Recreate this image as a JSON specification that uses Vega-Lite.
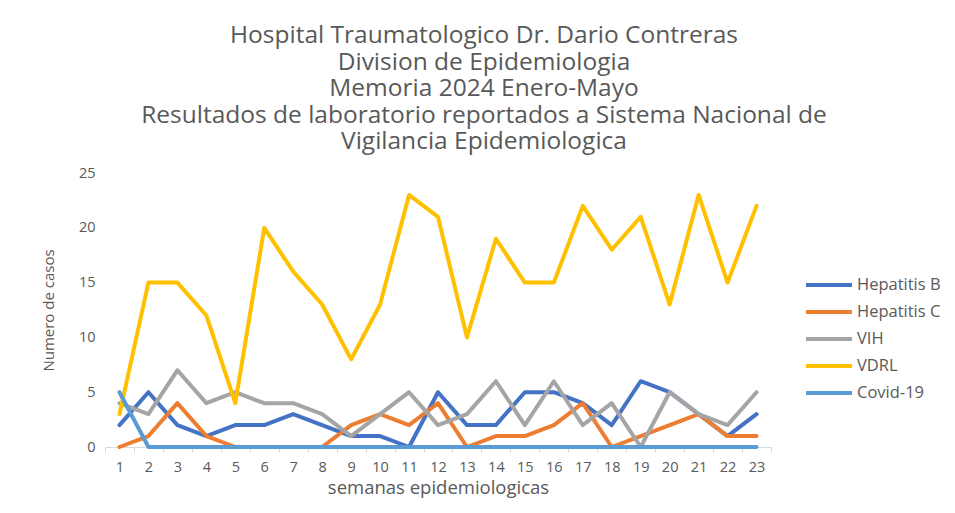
{
  "$schema": "https://vega.github.io/schema/vega-lite/v6.json",
  "autosize": {"type": "none"},
  "padding": {"left": 105, "top": 173, "right": 184, "bottom": 66},
  "width": 666,
  "height": 274,
  "background": "white",
  "title": {
    "text": ["Hospital Traumatologico Dr. Dario Contreras", "Division de Epidemiologia", "Memoria 2024 Enero-Mayo", "Resultados de laboratorio reportados a Sistema Nacional de", "Vigilancia Epidemiologica"],
    "font": "Open Sans",
    "fontSize": 24.5,
    "fontWeight": "normal",
    "color": "#595959",
    "lineHeight": 26.5,
    "anchor": "middle",
    "dx": 46,
    "offset": 10.5,
    "limit": 900
  },
  "data": {"values": [
    {"semana": 1, "serie": "Hepatitis B", "casos": 2},
    {"semana": 2, "serie": "Hepatitis B", "casos": 5},
    {"semana": 3, "serie": "Hepatitis B", "casos": 2},
    {"semana": 4, "serie": "Hepatitis B", "casos": 1},
    {"semana": 5, "serie": "Hepatitis B", "casos": 2},
    {"semana": 6, "serie": "Hepatitis B", "casos": 2},
    {"semana": 7, "serie": "Hepatitis B", "casos": 3},
    {"semana": 8, "serie": "Hepatitis B", "casos": 2},
    {"semana": 9, "serie": "Hepatitis B", "casos": 1},
    {"semana": 10, "serie": "Hepatitis B", "casos": 1},
    {"semana": 11, "serie": "Hepatitis B", "casos": 0},
    {"semana": 12, "serie": "Hepatitis B", "casos": 5},
    {"semana": 13, "serie": "Hepatitis B", "casos": 2},
    {"semana": 14, "serie": "Hepatitis B", "casos": 2},
    {"semana": 15, "serie": "Hepatitis B", "casos": 5},
    {"semana": 16, "serie": "Hepatitis B", "casos": 5},
    {"semana": 17, "serie": "Hepatitis B", "casos": 4},
    {"semana": 18, "serie": "Hepatitis B", "casos": 2},
    {"semana": 19, "serie": "Hepatitis B", "casos": 6},
    {"semana": 20, "serie": "Hepatitis B", "casos": 5},
    {"semana": 21, "serie": "Hepatitis B", "casos": 3},
    {"semana": 22, "serie": "Hepatitis B", "casos": 1},
    {"semana": 23, "serie": "Hepatitis B", "casos": 3},
    {"semana": 1, "serie": "Hepatitis C", "casos": 0},
    {"semana": 2, "serie": "Hepatitis C", "casos": 1},
    {"semana": 3, "serie": "Hepatitis C", "casos": 4},
    {"semana": 4, "serie": "Hepatitis C", "casos": 1},
    {"semana": 5, "serie": "Hepatitis C", "casos": 0},
    {"semana": 6, "serie": "Hepatitis C", "casos": 0},
    {"semana": 7, "serie": "Hepatitis C", "casos": 0},
    {"semana": 8, "serie": "Hepatitis C", "casos": 0},
    {"semana": 9, "serie": "Hepatitis C", "casos": 2},
    {"semana": 10, "serie": "Hepatitis C", "casos": 3},
    {"semana": 11, "serie": "Hepatitis C", "casos": 2},
    {"semana": 12, "serie": "Hepatitis C", "casos": 4},
    {"semana": 13, "serie": "Hepatitis C", "casos": 0},
    {"semana": 14, "serie": "Hepatitis C", "casos": 1},
    {"semana": 15, "serie": "Hepatitis C", "casos": 1},
    {"semana": 16, "serie": "Hepatitis C", "casos": 2},
    {"semana": 17, "serie": "Hepatitis C", "casos": 4},
    {"semana": 18, "serie": "Hepatitis C", "casos": 0},
    {"semana": 19, "serie": "Hepatitis C", "casos": 1},
    {"semana": 20, "serie": "Hepatitis C", "casos": 2},
    {"semana": 21, "serie": "Hepatitis C", "casos": 3},
    {"semana": 22, "serie": "Hepatitis C", "casos": 1},
    {"semana": 23, "serie": "Hepatitis C", "casos": 1},
    {"semana": 1, "serie": "VIH", "casos": 4},
    {"semana": 2, "serie": "VIH", "casos": 3},
    {"semana": 3, "serie": "VIH", "casos": 7},
    {"semana": 4, "serie": "VIH", "casos": 4},
    {"semana": 5, "serie": "VIH", "casos": 5},
    {"semana": 6, "serie": "VIH", "casos": 4},
    {"semana": 7, "serie": "VIH", "casos": 4},
    {"semana": 8, "serie": "VIH", "casos": 3},
    {"semana": 9, "serie": "VIH", "casos": 1},
    {"semana": 10, "serie": "VIH", "casos": 3},
    {"semana": 11, "serie": "VIH", "casos": 5},
    {"semana": 12, "serie": "VIH", "casos": 2},
    {"semana": 13, "serie": "VIH", "casos": 3},
    {"semana": 14, "serie": "VIH", "casos": 6},
    {"semana": 15, "serie": "VIH", "casos": 2},
    {"semana": 16, "serie": "VIH", "casos": 6},
    {"semana": 17, "serie": "VIH", "casos": 2},
    {"semana": 18, "serie": "VIH", "casos": 4},
    {"semana": 19, "serie": "VIH", "casos": 0},
    {"semana": 20, "serie": "VIH", "casos": 5},
    {"semana": 21, "serie": "VIH", "casos": 3},
    {"semana": 22, "serie": "VIH", "casos": 2},
    {"semana": 23, "serie": "VIH", "casos": 5},
    {"semana": 1, "serie": "VDRL", "casos": 3},
    {"semana": 2, "serie": "VDRL", "casos": 15},
    {"semana": 3, "serie": "VDRL", "casos": 15},
    {"semana": 4, "serie": "VDRL", "casos": 12},
    {"semana": 5, "serie": "VDRL", "casos": 4},
    {"semana": 6, "serie": "VDRL", "casos": 20},
    {"semana": 7, "serie": "VDRL", "casos": 16},
    {"semana": 8, "serie": "VDRL", "casos": 13},
    {"semana": 9, "serie": "VDRL", "casos": 8},
    {"semana": 10, "serie": "VDRL", "casos": 13},
    {"semana": 11, "serie": "VDRL", "casos": 23},
    {"semana": 12, "serie": "VDRL", "casos": 21},
    {"semana": 13, "serie": "VDRL", "casos": 10},
    {"semana": 14, "serie": "VDRL", "casos": 19},
    {"semana": 15, "serie": "VDRL", "casos": 15},
    {"semana": 16, "serie": "VDRL", "casos": 15},
    {"semana": 17, "serie": "VDRL", "casos": 22},
    {"semana": 18, "serie": "VDRL", "casos": 18},
    {"semana": 19, "serie": "VDRL", "casos": 21},
    {"semana": 20, "serie": "VDRL", "casos": 13},
    {"semana": 21, "serie": "VDRL", "casos": 23},
    {"semana": 22, "serie": "VDRL", "casos": 15},
    {"semana": 23, "serie": "VDRL", "casos": 22},
    {"semana": 1, "serie": "Covid-19", "casos": 5},
    {"semana": 2, "serie": "Covid-19", "casos": 0},
    {"semana": 3, "serie": "Covid-19", "casos": 0},
    {"semana": 4, "serie": "Covid-19", "casos": 0},
    {"semana": 5, "serie": "Covid-19", "casos": 0},
    {"semana": 6, "serie": "Covid-19", "casos": 0},
    {"semana": 7, "serie": "Covid-19", "casos": 0},
    {"semana": 8, "serie": "Covid-19", "casos": 0},
    {"semana": 9, "serie": "Covid-19", "casos": 0},
    {"semana": 10, "serie": "Covid-19", "casos": 0},
    {"semana": 11, "serie": "Covid-19", "casos": 0},
    {"semana": 12, "serie": "Covid-19", "casos": 0},
    {"semana": 13, "serie": "Covid-19", "casos": 0},
    {"semana": 14, "serie": "Covid-19", "casos": 0},
    {"semana": 15, "serie": "Covid-19", "casos": 0},
    {"semana": 16, "serie": "Covid-19", "casos": 0},
    {"semana": 17, "serie": "Covid-19", "casos": 0},
    {"semana": 18, "serie": "Covid-19", "casos": 0},
    {"semana": 19, "serie": "Covid-19", "casos": 0},
    {"semana": 20, "serie": "Covid-19", "casos": 0},
    {"semana": 21, "serie": "Covid-19", "casos": 0},
    {"semana": 22, "serie": "Covid-19", "casos": 0},
    {"semana": 23, "serie": "Covid-19", "casos": 0}
  ]},
  "mark": {"type": "line", "strokeWidth": 4, "strokeJoin": "round", "strokeCap": "round"},
  "encoding": {
    "x": {
      "field": "semana", "type": "ordinal",
      "scale": {"type": "band", "paddingInner": 0, "paddingOuter": 0},
      "axis": {
        "title": "semanas epidemiologicas",
        "labelAngle": 0,
        "labelFont": "Open Sans", "labelFontSize": 14.5, "labelColor": "#595959",
        "titleFont": "Open Sans", "titleFontSize": 18.5, "titleFontWeight": "normal", "titleColor": "#595959",
        "domainColor": "#d9d9d9", "tickColor": "#d9d9d9", "tickBand": "extent", "tickSize": 5,
        "labelPadding": 8, "titlePadding": 5, "grid": false
      }
    },
    "y": {
      "field": "casos", "type": "quantitative",
      "scale": {"domain": [0, 25], "nice": false},
      "axis": {
        "title": "Numero de casos",
        "values": [0, 5, 10, 15, 20, 25],
        "labelFont": "Open Sans", "labelFontSize": 14.5, "labelColor": "#595959",
        "titleFont": "Open Sans", "titleFontSize": 15, "titleFontWeight": "normal", "titleColor": "#595959",
        "domain": false, "ticks": false, "grid": false, "labelPadding": 10, "titlePadding": 22
      }
    },
    "color": {
      "field": "serie", "type": "nominal",
      "scale": {
        "domain": ["Hepatitis B", "Hepatitis C", "VIH", "VDRL", "Covid-19"],
        "range": ["#4472C4", "#ED7D31", "#A5A5A5", "#FFC000", "#5B9BD5"]
      },
      "legend": {
        "title": null,
        "orient": "none",
        "legendX": 705.5,
        "legendY": 93.5,
        "symbolType": "M-1.394,0H1.394",
        "symbolSize": 1089,
        "symbolStrokeWidth": 4,
        "symbolFillColor": "transparent",
        "labelFont": "Open Sans", "labelFontSize": 16.5, "labelColor": "#595959",
        "labelOffset": 9.5,
        "rowPadding": 0
      }
    }
  },
  "config": {"view": {"stroke": null}}
}
